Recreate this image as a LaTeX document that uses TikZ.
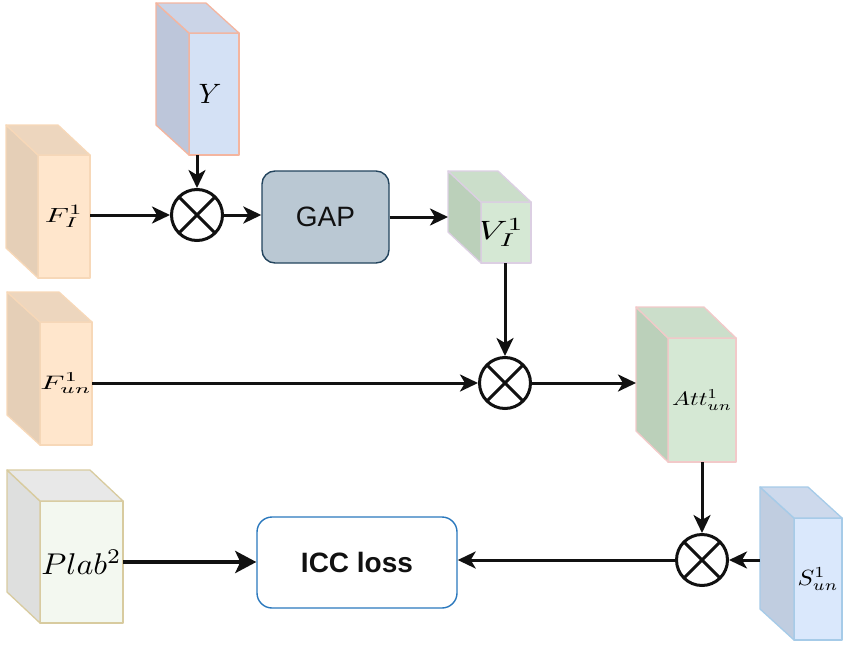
\RequirePackage{fix-cm}
\documentclass[tikz,border=0pt]{standalone}
\usepackage{fontspec}
\usepackage{graphicx}
\usetikzlibrary{arrows.meta,calc}
\newfontfamily\arialfont{Liberation Sans}

\definecolor{ink}{HTML}{111111}
\definecolor{bluefront}{HTML}{D4E1F5}
\definecolor{blueside}{HTML}{BDC6DA}
\definecolor{bluetop}{HTML}{CBD4E7}
\definecolor{salmon}{HTML}{F4B59F}
\definecolor{orfront}{HTML}{FFE6CC}
\definecolor{orside}{HTML}{E5CFB7}
\definecolor{ortop}{HTML}{EDD6BE}
\definecolor{oredge}{HTML}{F7D8B8}
\definecolor{grfront}{HTML}{D5E8D4}
\definecolor{grside}{HTML}{BBD0BA}
\definecolor{grtop}{HTML}{CBDECA}
\definecolor{lavedge}{HTML}{DCCFE3}
\definecolor{pinkedge}{HTML}{F2C9C9}
\definecolor{sfront}{HTML}{DAE8FC}
\definecolor{sside}{HTML}{C0CDE0}
\definecolor{stop}{HTML}{CDD9EC}
\definecolor{sedge}{HTML}{A6CBE8}
\definecolor{pfront}{HTML}{F3F8F0}
\definecolor{pside}{HTML}{DEDFDE}
\definecolor{ptop}{HTML}{E8E8E8}
\definecolor{pedge}{HTML}{D8CB9F}
\definecolor{gapfill}{HTML}{BAC8D3}
\definecolor{gapedge}{HTML}{23445D}
\definecolor{iccedge}{HTML}{2A78BD}

% math label set at 10pt and scaled: horizontal factor, vertical factor, formula
\newcommand{\lab}[3]{\fontsize{10}{12}\selectfont\scalebox{#1}[#2]{$#3$}}

% side and top faces behind a front-face node
\newcommand{\cubefaces}[6]{%
  \filldraw[fill=#4, draw=#6, line width=1.3pt, line join=round]
    (#1.north west) -- ++(-#2,-#3) -- ($(#1.south west)+(-#2,-#3)$) -- (#1.south west) -- cycle;
  \filldraw[fill=#5, draw=#6, line width=1.3pt, line join=round]
    (#1.north west) -- ++(-#2,-#3) -- ($(#1.north east)+(-#2,-#3)$) -- (#1.north east) -- cycle;
}

\tikzset{
  cube/.style={draw, line width=1.3pt, inner sep=0pt, outer sep=0pt, line join=round},
  arr/.style={draw=ink, line width=3pt, -{Stealth[length=18pt,width=17pt,inset=5pt]}},
  heavyarr/.style={draw=ink, line width=4pt, -{Stealth[length=21pt,width=22pt,inset=5pt]}},
  otim/.style={circle, draw=ink, line width=3pt, minimum size=51pt, inner sep=0pt,
    path picture={\draw[ink, line width=3pt]
      (path picture bounding box.north west) -- (path picture bounding box.south east)
      (path picture bounding box.north east) -- (path picture bounding box.south west);}},
  block/.style={draw, rounded corners=13pt, line width=1.4pt, inner sep=0pt},
}

\begin{document}
\begin{tikzpicture}[x=1pt,y=-1pt]
\useasboundingbox (0,0) rectangle (843,645);

% feature cuboids (front faces as nodes)
\node[cube, fill=bluefront, draw=salmon, minimum width=50pt, minimum height=122pt] (Y) at (214,94)
  {\hspace*{-8pt}\lab{2.85}{2.8}{Y}};
\cubefaces{Y}{33}{30}{blueside}{bluetop}{salmon}

\node[cube, fill=orfront, draw=oredge, minimum width=52pt, minimum height=123pt] (FI) at (64,216.5)
  {\lab{3.1}{2.05}{F_I^1}};
\cubefaces{FI}{32}{30}{orside}{ortop}{oredge}

\node[cube, fill=grfront, draw=lavedge, minimum width=50pt, minimum height=61pt] (VI) at (506,232.5)
  {\hspace*{-10pt}\lab{3.7}{2.65}{V_I^1}};
\cubefaces{VI}{33}{31}{grside}{grtop}{lavedge}

\node[cube, fill=orfront, draw=oredge, minimum width=52pt, minimum height=123pt] (FUN) at (66,383.5)
  {\lab{3.1}{1.95}{F_{un}^1}};
\cubefaces{FUN}{33}{30}{orside}{ortop}{oredge}

\node[cube, fill=grfront, draw=pinkedge, minimum width=68pt, minimum height=124pt] (ATT) at (702,400)
  {\lab{2.4}{1.95}{Att_{un}^1}};
\cubefaces{ATT}{32}{31}{grside}{grtop}{pinkedge}

\node[cube, fill=sfront, draw=sedge, minimum width=48pt, minimum height=122pt] (SUN) at (818,579)
  {\lab{2.5}{2.2}{S_{un}^1}};
\cubefaces{SUN}{34}{31}{sside}{stop}{sedge}

\node[cube, fill=pfront, draw=pedge, minimum width=83pt, minimum height=122pt] (PLAB) at (81.5,562)
  {\lab{3.2}{3.0}{Plab^2}};
\cubefaces{PLAB}{33}{31}{pside}{ptop}{pedge}

% left edges of the side faces that arrows run into or out of
\coordinate (VIback) at ($(VI.west)+(-33,0)$);
\coordinate (ATTback) at ($(ATT.west)+(-32,0)$);
\coordinate (SUNback) at ($(SUN.west)+(-34,0)$);

% processing blocks
\node[block, fill=gapfill, draw=gapedge, minimum width=127pt, minimum height=92pt] (GAP) at (325.5,217)
  {\arialfont\fontsize{28}{28}\selectfont\color{ink}GAP};
\node[block, fill=white, draw=iccedge, minimum width=200pt, minimum height=91pt, rounded corners=15pt] (ICC) at (357,562.5)
  {\arialfont\bfseries\fontsize{28}{28}\selectfont\color{ink}ICC loss};

% element-wise products
\node[otim] (ot1) at (197,215) {};
\node[otim] (ot2) at (505,383) {};
\node[otim] (ot3) at (702,560) {};

% connectors
\draw[arr] (FI.east |- ot1) -- (ot1.west);
\draw[arr] (Y.south -| ot1) -- (ot1.north);
\draw[arr] (ot1.east) -- (GAP.west |- ot1.east);
\draw[arr] (GAP.east) -- (GAP.east -| VIback);
\draw[arr] (VI.south -| ot2) -- (ot2.north);
\draw[arr] (FUN.east |- ot2) -- (ot2.west);
\draw[arr] (ot2.east) -- (ot2.east -| ATTback);
\draw[arr] (ATT.south -| ot3) -- (ot3.north);
\draw[arr] (SUNback |- ot3) -- (ot3.east);
\draw[arr] (ot3.west) -- (ICC.east |- ot3.west);
\draw[heavyarr] (PLAB.east) -- (ICC.west |- PLAB.east);
\end{tikzpicture}
\end{document}
